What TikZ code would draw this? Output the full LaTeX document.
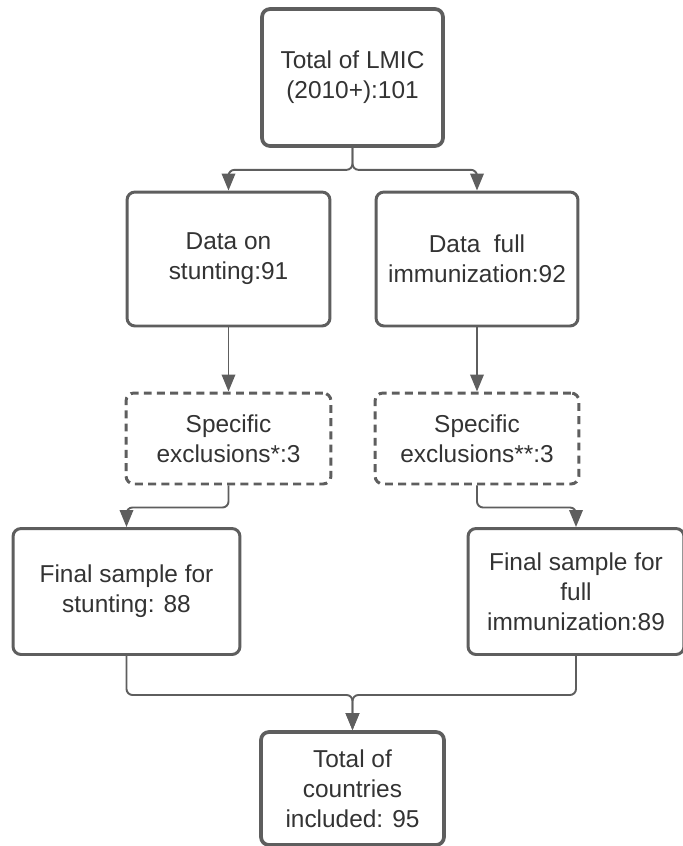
\documentclass[tikz,border=0pt]{standalone}
\usepackage{fontspec}
\setmainfont{Liberation Sans}
\usetikzlibrary{arrows.meta}
\definecolor{linegray}{HTML}{5E5E5E}
\definecolor{textgray}{HTML}{333333}
\begin{document}
\begin{tikzpicture}[x=0.02cm,y=-0.02cm,
  box/.style={draw=linegray,line width=1.7pt,rounded corners=0.16cm,fill=white,align=center,text=textgray,font=\fontsize{13.9}{17}\selectfont,inner sep=0pt},
  bigbox/.style={box,line width=2.1pt},
  exbox/.style={box,dash pattern=on 4.5pt off 3pt},
  conn/.style={draw=linegray,line width=1.1pt,rounded corners=0.12cm,-{Triangle[length=0.34cm,width=0.27cm,line join=miter]}}]
%page frame, boxes on the edge are cut like in the original
\clip (0,0) rectangle (683,846);
\node[bigbox,minimum width=3.62cm,minimum height=2.74cm] (lmic) at (352.5,77.5) {Total of LMIC\\(2010+):101};
\node[box,minimum width=4.06cm,minimum height=2.68cm] (stunt) at (228.5,259) {Data on\\stunting:91};
\node[box,minimum width=4.04cm,minimum height=2.68cm] (immun) at (477,259) {Data\ \ full\\immunization:92};
\node[exbox,minimum width=4.1cm,minimum height=1.82cm] (exstunt) at (228.5,438.5) {Specific\\exclusions*:3};
\node[exbox,minimum width=4.08cm,minimum height=1.82cm] (eximmun) at (477,438.5) {Specific\\exclusions**:3};
\node[box,minimum width=4.54cm,minimum height=2.52cm] (finstunt) at (126.5,591.5) {Final sample for\\stunting: 88};
\node[box,minimum width=4.32cm,minimum height=2.52cm] (finimmun) at (576,591.5) {Final sample for\\full\\immunization:89};
\node[bigbox,minimum width=3.66cm,minimum height=2.26cm] (total) at (352.5,788.5) {Total of\\countries\\included: 95};
% top split
\draw[conn] (lmic.south) -- ++(0,22) -| (stunt.north);
\draw[conn] (lmic.south) -- ++(0,22) -| (immun.north);
% data to exclusions
\draw[conn] (stunt.south) -- (exstunt.north);
\draw[conn] (immun.south) -- (eximmun.north);
% exclusions to final samples
\draw[conn] (exstunt.south) -- ++(0,22) -| (finstunt.north);
\draw[conn] (eximmun.south) -- ++(0,22) -| (finimmun.north);
% merge
\draw[conn] (finstunt.south) -- ++(0,39) -| (total.north);
\draw[conn] (finimmun.south) -- ++(0,39) -| (total.north);
\end{tikzpicture}
\end{document}
